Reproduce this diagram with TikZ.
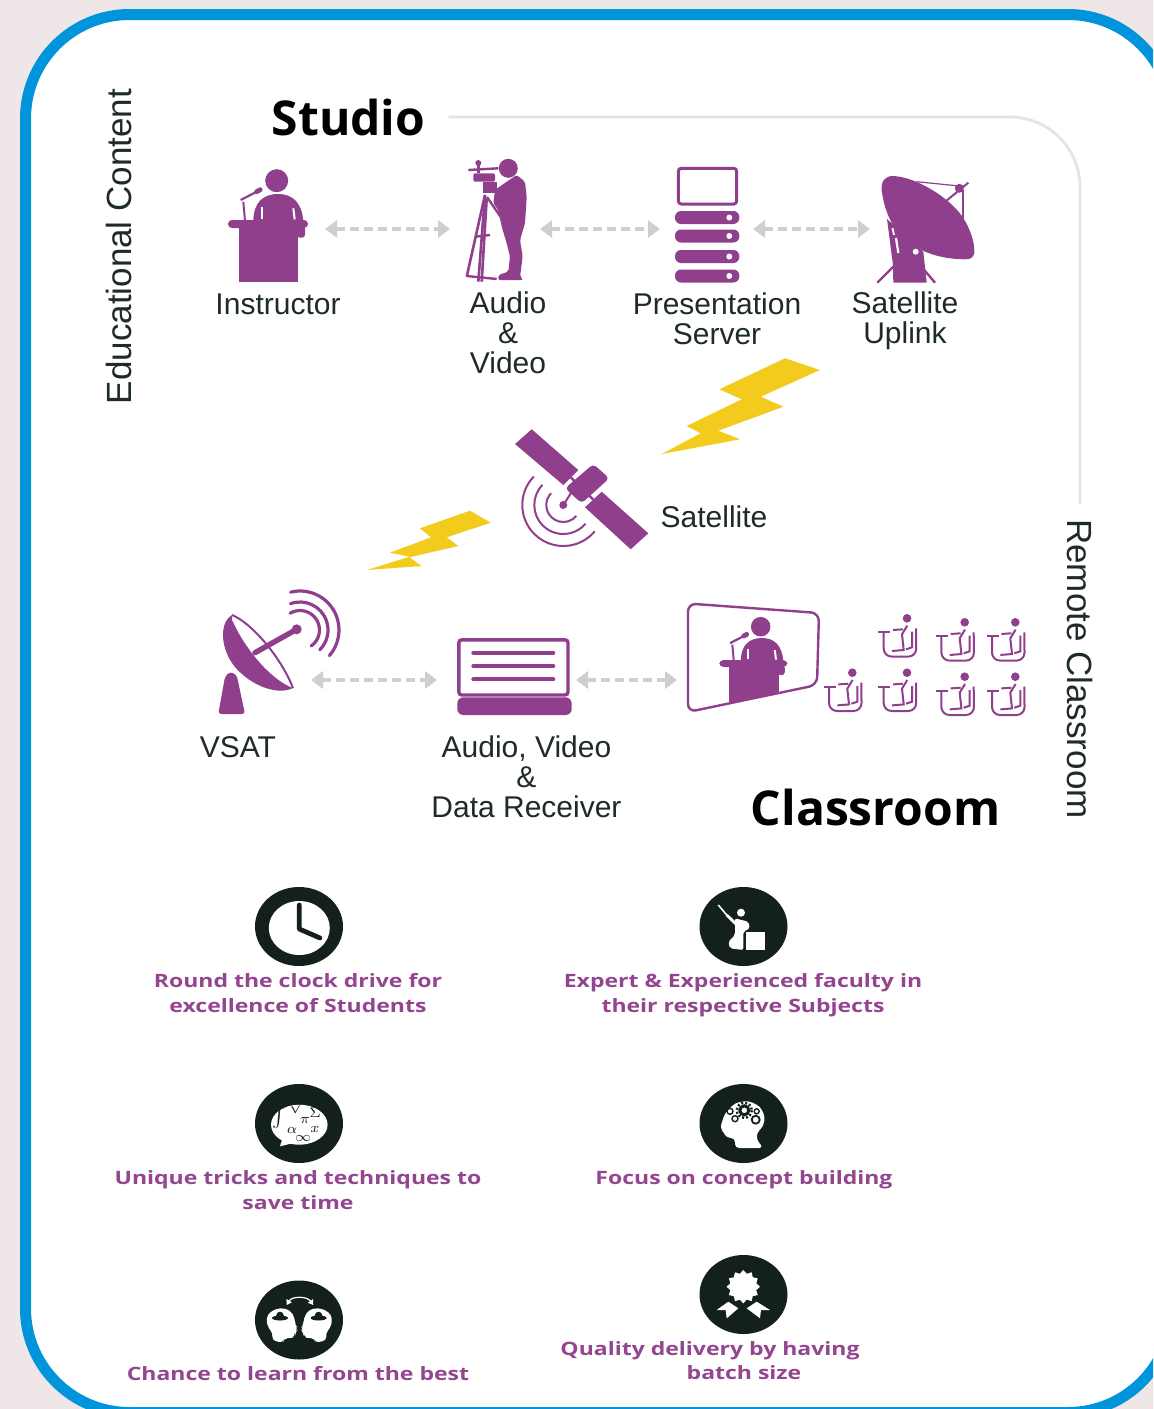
\documentclass[tikz,border=0pt]{standalone}
\usepackage{fontspec}
\setmainfont{Liberation Sans}
\newfontfamily\headFont{Open Sans}
\newfontfamily\captionFont[FakeStretch=1.25]{Open Sans}
\usetikzlibrary{arrows.meta,shapes.geometric}
\definecolor{iconPurple}{HTML}{8F3F8C}
\definecolor{captionPurple}{HTML}{93468F}
\definecolor{frameBlue}{HTML}{0095DA}
\definecolor{pageTint}{HTML}{EFE6E8}
\definecolor{boltYellow}{HTML}{F2CB1D}
\definecolor{discInk}{HTML}{14201E}
\definecolor{textInk}{HTML}{1F2A2A}
\definecolor{linkGrey}{HTML}{CFCFCF}
\definecolor{ruleGrey}{HTML}{E4E4E4}
\newcommand{\myPodium}[3]{%%
  \begin{scope}[shift={(#1,#2)},scale=#3]
    %% Head and shoulders.
    \fill[iconPurple] (0,0) circle[radius=11.5];
    \fill[iconPurple] (-23.4,40) .. controls (-23,22) and (-14,13.3) .. (1.6,13.3)
    .. controls (16,13.3) and (25,22) .. (26.6,40) -- cycle;
    \draw[white,line width=1pt] (-15,26) -- (-15,38);
    \draw[white,line width=1pt] (16.6,27.6) -- (18,38.7);
    %% Desk.
    \fill[iconPurple,rounded corners=2pt] (-48.7,39.3) rectangle (31.3,47.3);
    \fill[iconPurple] (-37.7,45) rectangle (21.3,101.3);
    \fill[iconPurple,rounded corners=1.5pt] (20,45) rectangle (28.3,57);
    %% Microphone.
    \draw[iconPurple,line width=1pt] (-33.4,21) -- (-31.7,40);
    \draw[iconPurple,line width=1.1pt] (-36,19.3) -- (-18,10);
    \draw[iconPurple,line width=2.4pt,line cap=round] (-20,11) -- (-16.5,9);
  \end{scope}
}
\newcommand{\myStudent}[2]{%%
  \begin{scope}[shift={(#1,#2)}]
    \fill[iconPurple] (0,0) circle[radius=4.3];
    %% Desk and seat.
    \draw[studentStyle] (-28.7,14) -- (-16.7,14);
    \draw[studentStyle,rounded corners=4pt] (-23.3,14) -- (-23.3,38.3) -- (9.3,38.3) -- (9,10);
    %% Body.
    \draw[studentStyle] (0.3,7.3) -- (-5,16) -- (-3.3,31.7) -- (-15,32.7);
    \draw[studentStyle] (-14,11.7) -- (-4,11);
    \draw[studentStyle] (5,13.3) -- (5,29) -- (-1,31);
  \end{scope}
}
\newcommand{\myDisc}[2]{%%
  \fill[discInk] (#1,#2) ellipse[x radius=44,y radius=39.5];
}
\newcommand{\myMindHead}[1]{%%
  \begin{scope}[shift={(299.3,0)},xscale=#1]
    \fill[white,rounded corners=2pt] (-33.3,1318.3) -- (-29.3,1311.7) -- (-19.3,1307.7)
    -- (-9.3,1310) -- (-4.3,1318.3) -- (-4.3,1325) -- (-1,1329) -- (-4.3,1332.3)
    -- (-4.3,1336.7) -- (-9.3,1338.3) -- (-16,1338.3) -- (-16,1343) -- (-27.7,1340)
    -- (-26,1333.3) -- (-31,1328.3) -- cycle;
    %% Cloud.
    \fill[discInk] (-19.3,1318) ellipse[x radius=8,y radius=2.5];
    \fill[discInk] (-19.3,1315.5) circle[radius=3.8];
  \end{scope}
}
\begin{document}
\begin{tikzpicture}[%%
  x=0.5pt,y=-0.5pt,
  iconBox/.style={inner sep=0pt,outer sep=0pt,minimum height=20pt},
  linkStyle/.style={{Triangle[length=6pt,width=8.5pt]}-{Triangle[length=6pt,width=8.5pt]},linkGrey,line width=1.7pt,dash pattern=on 4.5pt off 2.5pt},
  ruleStyle/.style={ruleGrey,line width=1.4pt},
  labelStyle/.style={textInk,font=\fontsize{15}{15}\selectfont,align=center,inner sep=0pt},
  sideStyle/.style={textInk,font=\fontsize{17.5}{18}\selectfont},
  headStyle/.style={black,font=\headFont\bfseries\fontsize{24}{24}\selectfont},
  captionStyle/.style={captionPurple,font=\captionFont\bfseries\fontsize{9.2}{12.75}\selectfont,align=center,inner sep=0pt},
  studentStyle/.style={iconPurple,line width=1pt},
  symbolStyle/.style={discInk,inner sep=0pt,font=\fontsize{7.5}{7.5}\selectfont}
]
\useasboundingbox (0,0) rectangle (1153,1409);
%%
%% Page and frame.
\fill[pageTint] (0,0) rectangle (1153,1409);
\begin{scope}
  \clip (0,0) rectangle (1153,1409);
  \draw[frameBlue,fill=white,line width=5.5pt,rounded corners=52pt] (25.5,14.5) rectangle (1172,1412.5);
\end{scope}
%%
%% Nodes the links run between.
\node[iconBox,minimum width=57pt] (instructor) at (268,229) {};
\node[iconBox,minimum width=45pt] (audioVideo) at (495,229) {};
\node[iconBox,minimum width=46.5pt] (server) at (706.5,229) {};
\node[iconBox,minimum width=55pt] (uplink) at (925,229) {};
\node[iconBox,minimum width=51pt] (vsat) at (260,680) {};
\node[iconBox,minimum width=69.5pt] (receiver) at (506.5,680) {};
\node[iconBox,minimum width=73pt] (screen) at (750,680) {};
%%
%% Headings and side texts.
\node[sideStyle,rotate=90] (educational) at (119,246.5) {Educational Content};
\node[headStyle,inner xsep=11.5pt] (studio) at (348.5,117) {Studio};
\node[headStyle] (classroom) at (875.5,807) {Classroom};
\node[sideStyle,rotate=-90,inner xsep=7.5pt] (remote) at (1080,669) {Remote Classroom};
\draw[ruleStyle,rounded corners=35pt] (studio.east) -| (remote.west);
%%
%% Labels.
\node[labelStyle] (instructorText) at (278,304) {Instructor};
\node[labelStyle] (audioVideoText) at (508,333) {Audio\\\&\\Video};
\node[labelStyle] (serverText) at (717,319) {Presentation\\Server};
\node[labelStyle] (uplinkText) at (905,321) {Satellite\\Uplink};
\node[labelStyle] (satelliteText) at (714,517) {Satellite};
\node[labelStyle] (vsatText) at (238,747) {VSAT};
\node[labelStyle] (receiverText) at (526.5,777) {Audio, Video\\\&\\Data Receiver};
%%
%% Links.
\draw[linkStyle] (instructor) -- (audioVideo);
\draw[linkStyle] (audioVideo) -- (server);
\draw[linkStyle] (server) -- (uplink);
\draw[linkStyle] (vsat) -- (receiver);
\draw[linkStyle] (receiver) -- (screen);
%%
%% Instructor.
\myPodium{276.7}{180.7}{1}
%%
%% Camera man.
\fill[iconPurple] (508.3,168.3) circle[radius=9.5];
\fill[iconPurple,rounded corners=1pt] (516.7,175) -- (525,181.7) -- (526.7,196.7) -- (525,223.3)
-- (520,240) -- (522.7,256.7) -- (520,276.7) -- (523.3,280) -- (498.3,280) -- (498.3,275)
-- (508.3,271.7) -- (510,256.7) -- (506.7,243.3) -- (501.7,226.7) -- (498.3,210)
-- (493.3,203.3) -- (495,190) -- (506.7,181.7) -- cycle;
\fill[iconPurple,rounded corners=1pt] (473.3,173.3) rectangle (495,181.7);
\fill[iconPurple] (483.3,181.7) rectangle (496.7,193.3);
\fill[iconPurple] (478.3,163) circle[radius=3];
\draw[iconPurple,line width=1.2pt] (478.3,163) -- (478.3,173);
\draw[iconPurple,line width=1.2pt] (468.3,170) -- (498.3,168.3);
\draw[iconPurple,line width=1.3pt] (485,195) -- (466.7,276.7);
\draw[iconPurple,line width=1.3pt] (485,195) -- (478.3,281.7);
\draw[iconPurple,line width=1.3pt] (486.7,198.3) -- (481.7,281.7);
\draw[iconPurple,line width=1.2pt] (487,197) -- (505,223.3);
\draw[iconPurple,line width=1.2pt] (475,236.7) -- (490,235);
\draw[iconPurple,line width=1.2pt] (466.7,276) -- (496.7,279);
%%
%% Server.
\draw[iconPurple,line width=1.5pt,rounded corners=1.5pt] (678.3,168.3) rectangle (736.7,204);
\foreach \barTop in {211,229.5,250,269.5}{%%
  \fill[iconPurple,rounded corners=3pt] (675,\barTop) rectangle (739.3,\barTop+13);
  \fill[white] (729.3,\barTop+6.5) circle[radius=3];
}
%%
%% Satellite uplink.
\draw[iconPurple,line width=1.2pt] (877.3,282.7) -- (895,265);
\draw[iconPurple,line width=1.2pt] (935,282.7) -- (920,265);
\draw[iconPurple,line width=0.6pt] (916.7,181.7) -- (959.3,186);
\draw[iconPurple,line width=1pt] (943.3,203.3) -- (968.3,182.7);
\draw[iconPurple,line width=0.9pt] (963.3,190) -- (963.3,221.7);
\fill[iconPurple] (959.3,188.3) circle[radius=4.5];
\fill[iconPurple] (887,219) -- (893,265) -- (893.3,282.7) -- (926.7,282.7) -- (923.3,251.7) -- cycle;
\fill[iconPurple] (881.7,190) .. controls (881,180) and (886,176) .. (893.3,176)
.. controls (915,177) and (945,195) .. (960,213.3)
.. controls (968,224) and (975,240) .. (974.3,253.3)
.. controls (973,258) and (970,259.5) .. (965,259.3)
.. controls (945,259) and (925,255) .. (905,240)
.. controls (892,228) and (884,210) .. (881.7,190) -- cycle;
\fill[white] (915.7,251.7) circle[radius=3];
\draw[white,line width=0.9pt] (892.5,228) -- (894,235);
\draw[white,line width=1.1pt] (896,238) -- (898.3,253);
%%
%% Bolts.
\fill[boltYellow] (785,358.3) -- (820,370) -- (760.7,396.7) -- (783.3,406.7) -- (718.3,430.7)
-- (740,439.3) -- (661.7,454) -- (700.7,433.3) -- (686.7,426) -- (741.7,399.3) -- (719.3,389.3) -- cycle;
\fill[boltYellow] (470,510.7) -- (490.7,522.7) -- (446.7,537.3) -- (458.3,546) -- (409.3,557.3)
-- (421.7,566) -- (366.7,570) -- (410,556.7) -- (390,552.7) -- (431,537.3) -- (420,528.3) -- cycle;
%%
%% Satellite.
\draw[iconPurple,line width=1.2pt] (570.8,477.5) -- (593.2,499.5);
\fill[iconPurple] (531.7,429.3) -- (578.3,470) -- (563.3,485) -- (515,444) -- cycle;
\fill[iconPurple] (601.7,491.7) -- (648.3,533.3) -- (630.7,549.3) -- (585,507.3) -- cycle;
\fill[iconPurple,rounded corners=2pt] (593.3,464) -- (609.3,478.3) -- (581.7,503.3) -- (565,488.3) -- cycle;
\draw[iconPurple,line width=1pt] (573,490) -- (563.3,505);
\fill[iconPurple] (563.3,505) circle[radius=4];
\draw[iconPurple,line width=1pt] (563.3,505) ++(224:17) arc[start angle=224,end angle=40,radius=17];
\draw[iconPurple,line width=1pt] (563.3,505) ++(224:29) arc[start angle=224,end angle=40,radius=29];
\draw[iconPurple,line width=1pt] (563.3,505) ++(224:41) arc[start angle=224,end angle=40,radius=41];
%%
%% VSAT.
\fill[iconPurple,rounded corners=1.5pt] (230,671.7) -- (236.7,675) -- (245,714) -- (218.3,714) -- (225,676.7) -- cycle;
\fill[iconPurple] (232,615) .. controls (220,622) and (220,645) .. (232,663)
.. controls (245,682) and (275,697) .. (293,688)
.. controls (275,682) and (248,655) .. (232,620) -- cycle;
\draw[iconPurple,line width=1pt] (232,615) .. controls (250,622) and (280,655) .. (293,688);
\draw[iconPurple,line width=2.7pt,line cap=round] (255,652.7) -- (296.7,629.3);
\fill[iconPurple] (296.7,629.3) circle[radius=5];
\draw[iconPurple,line width=1.6pt,line cap=round] (300,630) ++(-120:19.5) arc[start angle=-120,end angle=55,radius=19.5];
\draw[iconPurple,line width=1.6pt,line cap=round] (300,630) ++(-110:28) arc[start angle=-110,end angle=45,radius=28];
\draw[iconPurple,line width=1.6pt,line cap=round] (300,630) ++(-104:39) arc[start angle=-104,end angle=41,radius=39];
%%
%% Receiver.
\draw[iconPurple,line width=1.7pt,rounded corners=1.5pt] (458.8,639.8) rectangle (568,695);
\foreach \lineY in {652.7,666,679.3}{%%
  \draw[iconPurple,line width=2pt,line cap=round] (473.3,\lineY) -- (553.3,\lineY);
}
\fill[iconPurple,rounded corners=3pt] (457.3,697.3) rectangle (571.7,715);
%%
%% Classroom screen.
\draw[iconPurple,line width=1.2pt,rounded corners=4pt] (688,603.5) -- (819,613) -- (817,685) -- (688,712) -- cycle;
\begin{scope}
  \clip (700,600) -- (800,600) -- (800,688.1) -- (700,709.6) -- cycle;
  \myPodium{760.7}{626.7}{0.85}
\end{scope}
%%
%% Students.
\foreach \seatX/\seatY in {907/618.3,964.7/622.3,1015.3/622.3,852.3/672.7,907/672.7,964.7/676.7,1015.3/676.7}{%%
  \myStudent{\seatX}{\seatY}
}
%%
%% Clock.
\myDisc{299}{926.5}
\fill[white] (299.3,928) ellipse[x radius=30.5,y radius=27];
\draw[discInk,line width=2.4pt,line cap=round,line join=round] (299.3,905) -- (299.3,929) -- (320,938);
%%
%% Teacher.
\myDisc{743.5}{926.5}
\fill[white] (745.7,931.7) rectangle (765,950);
\fill[white] (741,912.7) circle[radius=4];
\fill[white,rounded corners=1pt] (735,918.3) -- (748.3,921.7) -- (750,928.3) -- (743.3,931.7) -- (743.3,950)
-- (730,948.3) -- (728.3,941.7) -- (735,935) -- (735,925) -- cycle;
\draw[white,line width=0.8pt] (718.3,905) -- (726.7,915);
\draw[white,line width=1.4pt] (726.7,915) -- (736,924);
%%
%% Formula bubble.
\myDisc{299}{1123.5}
\fill[white] (299.3,1124.7) ellipse[x radius=28.3,y radius=20];
\fill[white] (283.3,1136) -- (280,1146.3) -- (293.3,1143) -- cycle;
\node[symbolStyle] (symInt) at (279,1118) {$\int$};
\node[symbolStyle] (symAlpha) at (292,1130) {$\alpha$};
\node[symbolStyle] (symRoot) at (296,1107) {$\surd$};
\node[symbolStyle] (symPi) at (305,1120.5) {$\pi$};
\node[symbolStyle] (symSigma) at (315,1112.5) {$\Sigma$};
\node[symbolStyle] (symInfty) at (303,1138) {$\infty$};
\node[symbolStyle] (symX) at (315,1129) {$x$};
%%
%% Head with gears.
\myDisc{743.5}{1123.5}
\fill[white,rounded corners=2pt] (722.3,1121.3) -- (725,1113) -- (735,1103) -- (748.3,1100.7) -- (760,1106.3)
-- (765,1116.3) -- (763.3,1126.3) -- (756.7,1133) -- (756.7,1139.7) -- (763.3,1148) -- (735,1148)
-- (735,1138) -- (726.7,1138) -- (724.3,1133) -- (720,1128) -- cycle;
\draw[discInk,line width=1.2pt,dash pattern=on 1pt off 1pt] (744.3,1110.3) circle[radius=7.5];
\draw[discInk,line width=1.5pt] (744.3,1110.3) circle[radius=4.5];
\draw[discInk,line width=0.7pt] (730,1111.3) circle[radius=3];
\draw[discInk,line width=0.7pt] (735,1118.7) circle[radius=3];
\draw[discInk,line width=0.9pt] (755.7,1119.7) circle[radius=4];
\draw[discInk,line width=0.7pt] (756.7,1111.3) circle[radius=2.5];
%%
%% Two heads.
\myDisc{299}{1320}
\myMindHead{1}
\myMindHead{-1}
\draw[white,line width=0.6pt,{Triangle[length=2.5pt,width=3pt]}-{Triangle[length=2.5pt,width=3pt]}] (286.6,1305) .. controls (292,1296) and (307,1296) .. (313.3,1305);
%%
%% Badge.
\myDisc{743.5}{1294.5}
\node[star,star points=12,star point ratio=1.25,fill=white,inner sep=0pt,minimum size=16.7pt] (badge) at (743.3,1286.7) {};
\fill[white] (716.7,1310) -- (728.3,1301.7) -- (738.3,1308.3) -- (726.7,1318.3) -- (725.7,1310) -- cycle;
\fill[white] (770,1310) -- (756.7,1301.7) -- (746.7,1308.3) -- (760,1318.3) -- (761,1310) -- cycle;
%%
%% Captions.
\node[captionStyle] (clockText) at (298,993) {Round the clock drive for\\excellence of Students};
\node[captionStyle] (facultyText) at (743,995) {Expert \& Experienced faculty in\\their respective Subjects};
\node[captionStyle] (tricksText) at (298,1190) {Unique tricks and techniques to\\save time};
\node[captionStyle] (conceptText) at (744,1180) {Focus on concept building};
\node[captionStyle] (bestText) at (298,1374) {Chance to learn from the best};
\node[captionStyle] (qualityText) at (710,1351) {Quality delivery by having};
\node[captionStyle] (batchText) at (744,1373) {batch size};
\end{tikzpicture}
\end{document}
